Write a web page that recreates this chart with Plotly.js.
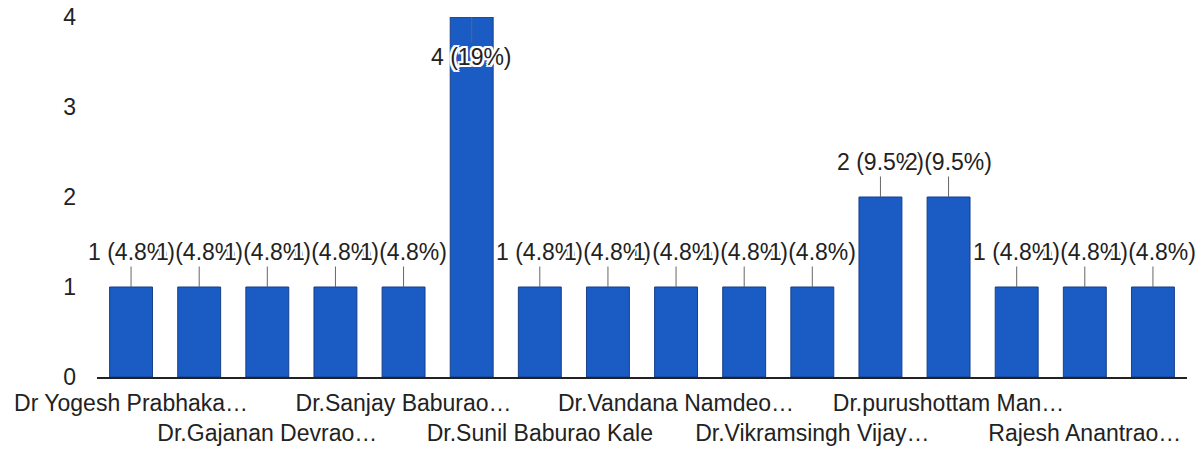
<!DOCTYPE html>
<html>
<head>
<meta charset="utf-8">
<script src="https://cdn.plot.ly/plotly-3.0.1.min.js"></script>
<style>
  html, body { margin: 0; padding: 0; background: #fff; }
  #graph { width: 1195px; height: 450px; }
</style>
</head>
<body>
<div id="graph"></div>
<script>
// responses per name, in the order of the bars
var counts = [1, 1, 1, 1, 1, 4, 1, 1, 1, 1, 1, 2, 2, 1, 1, 1];

// only every other name is printed under the axis
var tickPos = [0, 2, 4, 6, 8, 10, 12, 14];
var tickNames = [
  'Dr Yogesh Prabhaka…',
  'Dr.Gajanan Devrao…',
  'Dr.Sanjay Baburao…',
  'Dr.Sunil Baburao Kale',
  'Dr.Vandana Namdeo…',
  'Dr.Vikramsingh Vijay…',
  'Dr.purushottam Man…',
  'Rajesh Anantrao…'
];

var yTicks = [0, 1, 2, 3, 4];

var font_family = 'Arial, "Liberation Sans", sans-serif';
var text_color = '#222';
var bar_color = '#1a5cc4';

var total = counts.reduce(function (a, b) { return a + b; }, 0);
var idx = counts.map(function (c, i) { return i; });

// labels alternate between two rows
var tickText = tickNames.map(function (t, i) {
  return i % 2 == 0 ? t : '<br>' + t;
});

//////////////////////////////////////////////////////////
// value labels with a little stem, white halo like the original
var halo = '-2px -2px 0 #fff, 2px -2px 0 #fff, -2px 2px 0 #fff, 2px 2px 0 #fff,' +
           '0 2px 0 #fff, 0 -2px 0 #fff, 2px 0 0 #fff, -2px 0 0 #fff';
var maxVal = Math.max.apply(null, counts);
var annotations = counts.map(function (c, i) {
  var pct = Number((c / total * 100).toPrecision(2));
  var atTop = c == maxVal;   // no room above the tallest bar, so put it inside
  return {
    x: i,
    y: c,
    xref: 'x',
    yref: 'y',
    text: c + ' (' + pct + '%)',
    showarrow: true,
    arrowhead: 0,
    arrowwidth: 1,
    arrowcolor: '#666',
    ax: 0,
    ay: atTop ? 40 : -35,
    font: { family: font_family, size: 23, color: text_color, shadow: halo }
  };
});

var trace_bars = {
  type: 'bar',
  x: idx,
  y: counts,
  marker: { color: bar_color, line: { color: '#173f8a', width: 1 } },
  hoverinfo: 'y'
};

var layout = {
  width: 1195,
  height: 450,
  margin: { l: 97, r: 8, t: 17, b: 73 },
  paper_bgcolor: '#fff',
  plot_bgcolor: '#fff',
  showlegend: false,
  bargap: 0.37,
  font: { family: font_family, size: 23, color: text_color },
  xaxis: {
    range: [-0.5, counts.length - 0.5],
    tickvals: tickPos,
    ticktext: tickText,
    tickangle: 0,
    ticks: '',
    ticklabelstandoff: 4,
    showgrid: false,
    zeroline: false,
    showline: true,
    linecolor: '#222',
    linewidth: 2,
    tickfont: { family: font_family, size: 23, color: text_color }
  },
  yaxis: {
    range: [0, 4],
    tickvals: yTicks,
    ticks: '',
    ticklabelstandoff: 20,
    showgrid: false,
    zeroline: false,
    showline: false,
    tickfont: { family: font_family, size: 23, color: text_color }
  },
  annotations: annotations
};

Plotly.newPlot('graph', [trace_bars], layout, { displayModeBar: false, staticPlot: true });
</script>
</body>
</html>
